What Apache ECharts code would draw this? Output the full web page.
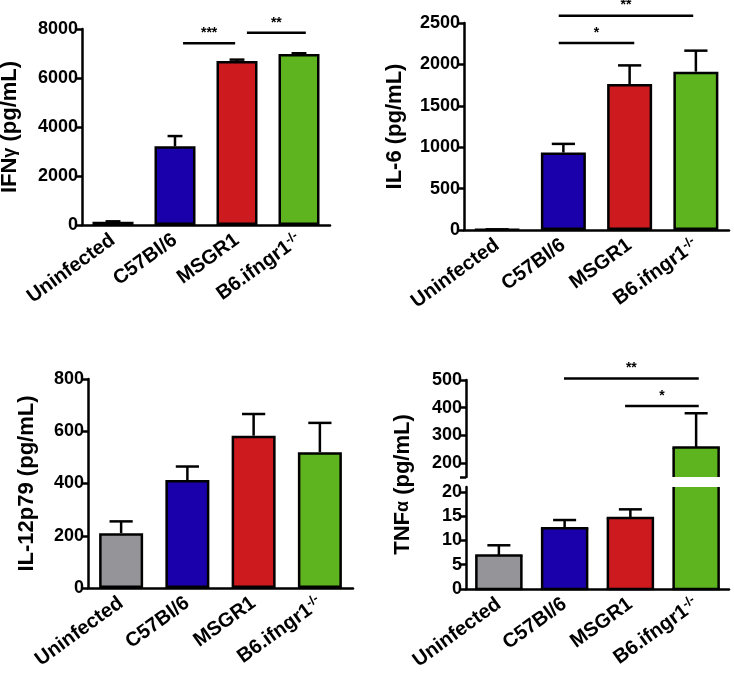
<!DOCTYPE html>
<html><head><meta charset="utf-8">
<script src="https://cdn.jsdelivr.net/npm/echarts@6/dist/echarts.min.js"></script>
<style>html,body{margin:0;padding:0;background:#fff}#c{width:734px;height:677px}</style>
</head><body><div id="c"></div>
<script>
const categories = ['Uninfected', 'C57Bl/6', 'MSGR1', 'B6.ifngr1-/-'];
const barColors = ['#949499', '#1a00aa', '#cc1a1e', '#5db41e'];

const ifngMean = [130, 3210, 6690, 6980];
const ifngErr = [20, 420, 60, 30];
const il6Mean = [5, 935, 1763, 1912];
const il6Err = [3, 105, 225, 254];
const il12Mean = [210, 413, 583, 520];
const il12Err = [45, 52, 83, 112];
const tnfMean = [6.9, 12.5, 14.6, 256];
const tnfErr = [2.1, 1.7, 1.8, 124];

const ifngSigFrom = [1.13, 2.16], ifngSigTo = [1.97, 3.11], ifngSigY = [7414, 7850], ifngSigText = ['***', '**'];
const il6SigFrom = [0.93, 0.93], il6SigTo = [2.07, 2.96], il6SigY = [2259, 2589], il6SigText = ['*', '**'];
const tnfSigFrom = [1.92, 0.99], tnfSigTo = [3.04, 3.04], tnfSigY = [406, 505], tnfSigText = ['*', '**'];

const ifngTicks = [0, 2000, 4000, 6000, 8000];
const il6Ticks = [0, 500, 1000, 1500, 2000, 2500];
const il12Ticks = [0, 200, 400, 600, 800];
const tnfLowTicks = [0, 5, 10, 15, 20];
const tnfHighTicks = [200, 300, 400, 500];

const FONT = 'Liberation Sans, Arial, sans-serif';
const chart = echarts.init(document.getElementById('c'));

const grids = [
  {left: 82, top: 29, width: 248, height: 196},
  {left: 464, top: 23, width: 265, height: 207},
  {left: 88, top: 379, width: 265, height: 209},
  {left: 466, top: 380, width: 263, height: 97},
  {left: 466, top: 487, width: 263, height: 102},
  {left: 466, top: 380, width: 263, height: 209}
].map(g => Object.assign({outerBoundsMode: 'none', containLabel: false}, g));

function xAx(gi, show) {
  return {
    type: 'category', gridIndex: gi, data: categories, show: show,
    axisLine: {lineStyle: {color: '#000', width: 2.5}},
    axisTick: {alignWithLabel: true, length: 6, lineStyle: {color: '#000', width: 2.5}},
    axisLabel: {
      rotate: 36, interval: 0, margin: 13, color: '#000',
      fontFamily: FONT, fontWeight: 'bold', fontSize: 20,
      formatter: v => v.endsWith('-/-') ? '{a|' + v.slice(0, -3) + '}{s|-/-}' : '{a|' + v + '}',
      rich: {
        a: {fontFamily: FONT, fontWeight: 'bold', fontSize: 20, color: '#000'},
        s: {fontFamily: FONT, fontWeight: 'bold', fontSize: 13, color: '#000', verticalAlign: 'top', padding: [0, 0, 9, 0]}
      }
    }
  };
}
function yAx(gi, min, max, ticks, name, gap) {
  return {
    type: 'value', gridIndex: gi, min: min, max: max,
    name: name, nameLocation: 'middle', nameGap: gap, nameRotate: 90,
    nameTextStyle: {fontFamily: FONT, fontWeight: 'bold', fontSize: 22, color: '#000',
      rich: {g: {fontFamily: FONT, fontWeight: 'bold', fontSize: 18, color: '#000'}}},
    splitLine: {show: false},
    axisLine: {show: true, lineStyle: {color: '#000', width: 2.5}},
    axisTick: {show: true, length: 6, lineStyle: {color: '#000', width: 2.5}, customValues: ticks},
    axisLabel: {color: '#000', fontFamily: FONT, fontWeight: 'bold', fontSize: 18, margin: 4,
      customValues: ticks, formatter: v => String(v)}
  };
}

function bars(gi, vals, bw) {
  return {
    type: 'bar', xAxisIndex: gi, yAxisIndex: gi, barWidth: bw, clip: true,
    data: vals.map((v, i) => ({value: v, itemStyle: {color: barColors[i]}})),
    itemStyle: {borderColor: '#000', borderWidth: 2.5}, z: 2
  };
}
// bars for a broken axis segment: fill clipped to [lo, hi], borders only on real edges
function segBars(gi, vals, lo, hi, bw) {
  return {
    type: 'custom', xAxisIndex: gi, yAxisIndex: gi, z: 2,
    data: vals.map((v, i) => [i, v]),
    encode: {x: 0, y: 1},
    renderItem: (params, api) => {
      const i = api.value(0), v = api.value(1);
      const top = Math.min(v, hi), bot = Math.max(0, lo);
      if (top <= bot) return null;
      const pt = api.coord([i, top]), pb = api.coord([i, bot]);
      const xl = pt[0] - bw / 2, xr = pt[0] + bw / 2;
      const st = {stroke: '#000', lineWidth: 2.5};
      const ch = [
        {type: 'rect', shape: {x: xl, y: pt[1], width: bw, height: pb[1] - pt[1]}, style: {fill: barColors[i]}},
        {type: 'line', shape: {x1: xl, y1: pt[1], x2: xl, y2: pb[1]}, style: st},
        {type: 'line', shape: {x1: xr, y1: pt[1], x2: xr, y2: pb[1]}, style: st}
      ];
      if (v <= hi) ch.push({type: 'line', shape: {x1: xl - 1.2, y1: pt[1], x2: xr + 1.2, y2: pt[1]}, style: st});
      if (lo <= 0) ch.push({type: 'line', shape: {x1: xl - 1.2, y1: pb[1], x2: xr + 1.2, y2: pb[1]}, style: st});
      return {type: 'group', children: ch};
    }
  };
}
function errs(gi, mean, err, capFrac, keep) {
  const data = [];
  mean.forEach((m, i) => { if (!keep || keep(m, err[i])) data.push([i, m, err[i]]); });
  return {
    type: 'custom', xAxisIndex: gi, yAxisIndex: gi, z: 3, data: data,
    encode: {x: 0, y: 1},
    renderItem: (params, api) => {
      const i = api.value(0), m = api.value(1), e = api.value(2);
      const b = api.coord([i, m]), t = api.coord([i, m + e]);
      const hw = api.size([1, 0])[0] * capFrac / 2;
      const st = {stroke: '#000', lineWidth: 2.5};
      return {type: 'group', children: [
        {type: 'line', shape: {x1: b[0], y1: b[1], x2: t[0], y2: t[1]}, style: st},
        {type: 'line', shape: {x1: t[0] - hw, y1: t[1], x2: t[0] + hw, y2: t[1]}, style: st}
      ]};
    }
  };
}
function sig(gi, from, to, ys, texts) {
  return {
    type: 'custom', xAxisIndex: gi, yAxisIndex: gi, z: 4,
    data: from.map((f, k) => [f, to[k], ys[k], k]),
    encode: {x: 0, y: 2},
    renderItem: (params, api) => {
      const f = api.value(0), tt = api.value(1), y = api.value(2), k = api.value(3);
      const p0 = api.coord([0, y]);
      const band = api.size([1, 0])[0];
      const x0 = p0[0] - band / 2;
      const x1 = x0 + (f + 0.5) * band, x2 = x0 + (tt + 0.5) * band;
      return {type: 'group', children: [
        {type: 'line', shape: {x1: x1, y1: p0[1], x2: x2, y2: p0[1]}, style: {stroke: '#000', lineWidth: 2.5}},
        {type: 'text', style: {text: texts[k], x: (x1 + x2) / 2, y: p0[1] - 3, align: 'center', verticalAlign: 'bottom',
          font: 'bold 14px ' + FONT, fill: '#000'}}
      ]};
    }
  };
}

const upperY = yAx(3, 150, 500, tnfHighTicks, '', 0);
upperY.axisTick.customValues = [150, 200, 300, 400, 500];
const nameY = {
  type: 'value', gridIndex: 5, min: 0, max: 1, name: 'TNF{g|α} (pg/mL)', nameLocation: 'middle', nameGap: 52, nameRotate: 90,
  nameTextStyle: {fontFamily: FONT, fontWeight: 'bold', fontSize: 22, color: '#000',
    rich: {g: {fontFamily: FONT, fontWeight: 'bold', fontSize: 18, color: '#000'}}},
  axisLine: {show: false}, axisTick: {show: false}, axisLabel: {show: false}, splitLine: {show: false}
};

chart.setOption({
  animation: false,
  backgroundColor: '#fff',
  grid: grids,
  xAxis: [xAx(0, true), xAx(1, true), xAx(2, true), xAx(3, false), xAx(4, true), xAx(5, false)],
  yAxis: [
    yAx(0, 0, 8000, ifngTicks, 'IFN{g|γ} (pg/mL)', 61),
    yAx(1, 0, 2500, il6Ticks, 'IL-6 (pg/mL)', 58),
    yAx(2, 0, 800, il12Ticks, 'IL-12p79 (pg/mL)', 50),
    upperY,
    yAx(4, 0, 21, tnfLowTicks, '', 0),
    nameY
  ],
  series: [
    bars(0, ifngMean, 41), errs(0, ifngMean, ifngErr, 0.24), sig(0, ifngSigFrom, ifngSigTo, ifngSigY, ifngSigText),
    bars(1, il6Mean, 45), errs(1, il6Mean, il6Err, 0.35), sig(1, il6SigFrom, il6SigTo, il6SigY, il6SigText),
    bars(2, il12Mean, 44), errs(2, il12Mean, il12Err, 0.35),
    segBars(3, tnfMean, 150, 500, 45), errs(3, tnfMean, tnfErr, 0.35, (m, e) => m >= 150), sig(3, tnfSigFrom, tnfSigTo, tnfSigY, tnfSigText),
    segBars(4, tnfMean, 0, 21, 45), errs(4, tnfMean, tnfErr, 0.35, (m, e) => m + e <= 21)
  ]
});
</script></body></html>
